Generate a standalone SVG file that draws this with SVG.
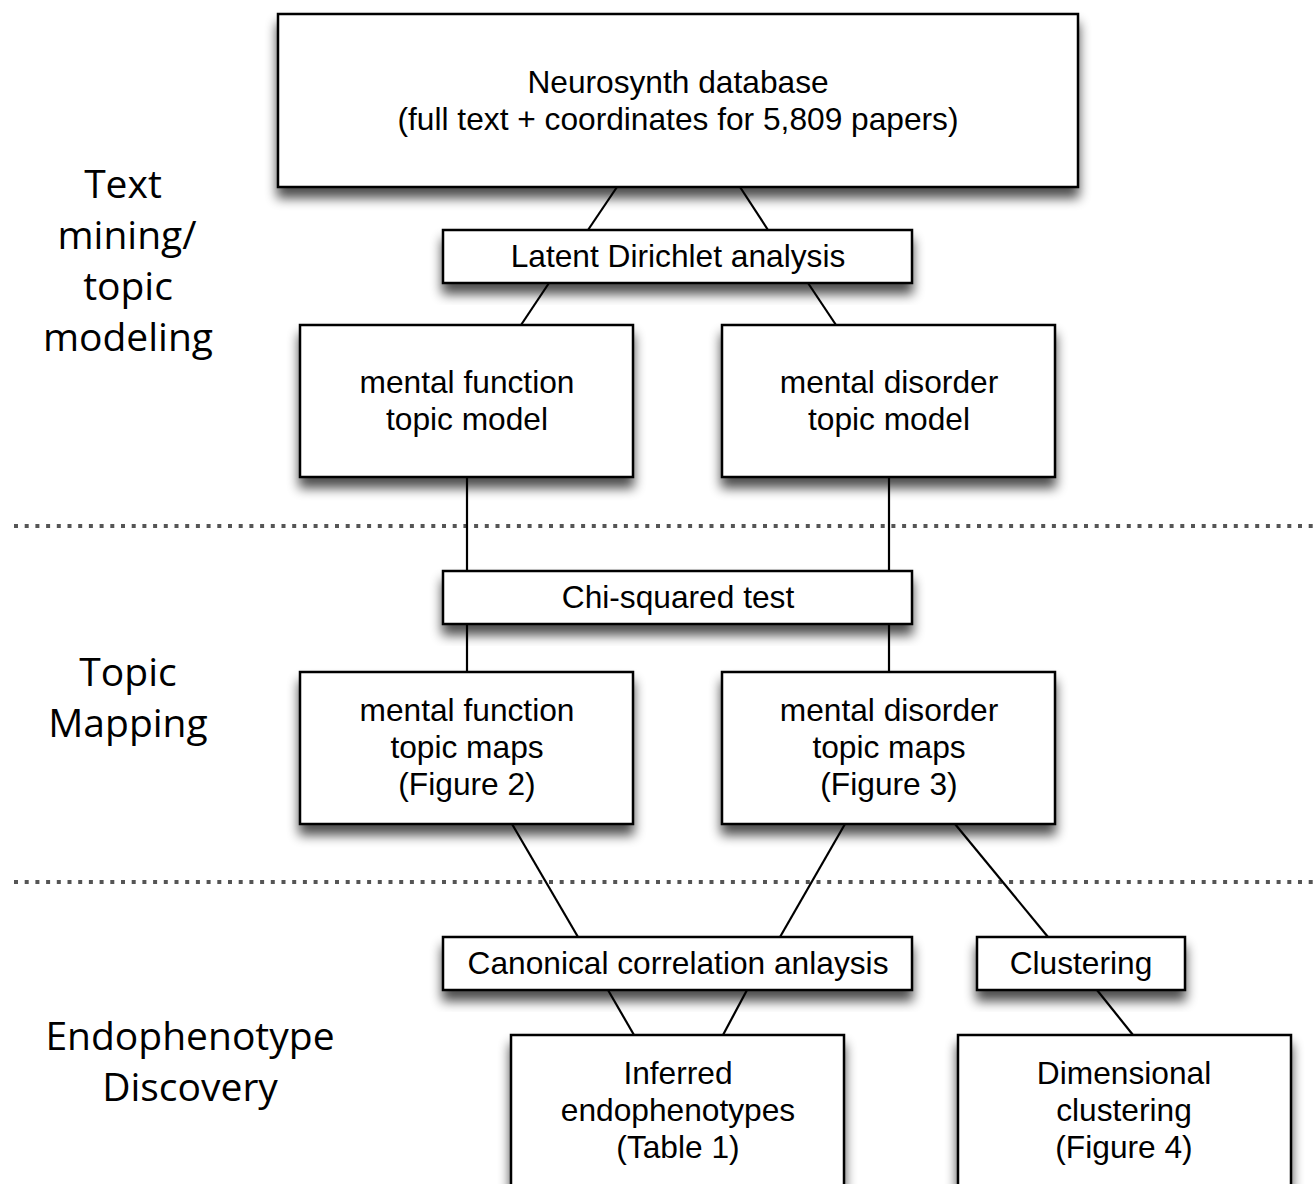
<svg xmlns="http://www.w3.org/2000/svg" width="1313" height="1184" viewBox="0 0 1313 1184">
<defs>
<filter id="sh" x="-10%" y="-30%" width="120%" height="170%">
<feGaussianBlur in="SourceAlpha" stdDeviation="6"/>
<feOffset dx="0" dy="10" result="b"/>
<feComponentTransfer><feFuncA type="linear" slope="0.7"/></feComponentTransfer>
<feMerge><feMergeNode/><feMergeNode in="SourceGraphic"/></feMerge>
</filter>
</defs>
<style>
.box{fill:#fff;stroke:#000;stroke-width:2.5;filter:url(#sh)}
.t{font-family:"Liberation Sans",Arial,sans-serif;font-size:31.7px;fill:#000;text-anchor:middle}
.lab{font-family:"Open Sans","Liberation Sans",sans-serif;font-size:39px;fill:#000;text-anchor:middle}
.con line{stroke:#000;stroke-width:2.2}
.dot{stroke:#555;stroke-width:4;stroke-dasharray:4 6.7}
</style>
<rect width="1313" height="1184" fill="#fff"/>
<g id="dividers">
<line class="dot" x1="14" y1="526" x2="1313" y2="526"/>
<line class="dot" x1="14" y1="882" x2="1313" y2="882"/>
</g>
<g id="section-labels">
<text class="lab" x="123" y="198">Text</text>
<text class="lab" x="127" y="249">mining/</text>
<text class="lab" x="128" y="300">topic</text>
<text class="lab" x="128" y="351">modeling</text>
<text class="lab" x="128" y="686">Topic</text>
<text class="lab" x="128" y="737">Mapping</text>
<text class="lab" x="190" y="1050">Endophenotype</text>
<text class="lab" x="190" y="1101">Discovery</text>
</g>
<g id="connectors" class="con">
<line x1="617" y1="187" x2="588" y2="230"/>
<line x1="740" y1="187" x2="768" y2="230"/>
<line x1="549" y1="283" x2="521" y2="325"/>
<line x1="808" y1="283" x2="836" y2="325"/>
<line x1="467" y1="477" x2="467" y2="571"/>
<line x1="889" y1="477" x2="889" y2="571"/>
<line x1="467" y1="624" x2="467" y2="672"/>
<line x1="889" y1="624" x2="889" y2="672"/>
<line x1="512" y1="824" x2="578" y2="937"/>
<line x1="845" y1="824" x2="780" y2="937"/>
<line x1="955" y1="824" x2="1048" y2="937"/>
<line x1="608" y1="990" x2="634" y2="1035"/>
<line x1="747" y1="990" x2="723" y2="1035"/>
<line x1="1097" y1="990" x2="1133" y2="1035"/>
</g>
<g id="neurosynth">
<rect class="box" x="278" y="14" width="800" height="173"/>
<text class="t" x="678" y="93">Neurosynth database</text>
<text class="t" x="678" y="130">(full text + coordinates for 5,809 papers)</text>
</g>
<g id="lda">
<rect class="box" x="443" y="230" width="469" height="53"/>
<text class="t" x="678" y="267">Latent Dirichlet analysis</text>
</g>
<g id="mf-model">
<rect class="box" x="300" y="325" width="333" height="152"/>
<text class="t" x="467" y="393">mental function</text>
<text class="t" x="467" y="430">topic model</text>
</g>
<g id="md-model">
<rect class="box" x="722" y="325" width="333" height="152"/>
<text class="t" x="889" y="393">mental disorder</text>
<text class="t" x="889" y="430">topic model</text>
</g>
<g id="chi">
<rect class="box" x="443" y="571" width="469" height="53"/>
<text class="t" x="678" y="608">Chi-squared test</text>
</g>
<g id="mf-maps">
<rect class="box" x="300" y="672" width="333" height="152"/>
<text class="t" x="467" y="721">mental function</text>
<text class="t" x="467" y="758">topic maps</text>
<text class="t" x="467" y="795">(Figure 2)</text>
</g>
<g id="md-maps">
<rect class="box" x="722" y="672" width="333" height="152"/>
<text class="t" x="889" y="721">mental disorder</text>
<text class="t" x="889" y="758">topic maps</text>
<text class="t" x="889" y="795">(Figure 3)</text>
</g>
<g id="cca">
<rect class="box" x="443" y="937" width="469" height="53"/>
<text class="t" x="678" y="974">Canonical correlation anlaysis</text>
</g>
<g id="clustering">
<rect class="box" x="977" y="937" width="208" height="53"/>
<text class="t" x="1081" y="974">Clustering</text>
</g>
<g id="inferred">
<rect class="box" x="511" y="1035" width="333" height="170"/>
<text class="t" x="678" y="1084">Inferred</text>
<text class="t" x="678" y="1121">endophenotypes</text>
<text class="t" x="678" y="1158">(Table 1)</text>
</g>
<g id="dimensional">
<rect class="box" x="958" y="1035" width="333" height="170"/>
<text class="t" x="1124" y="1084">Dimensional</text>
<text class="t" x="1124" y="1121">clustering</text>
<text class="t" x="1124" y="1158">(Figure 4)</text>
</g>
</svg>
